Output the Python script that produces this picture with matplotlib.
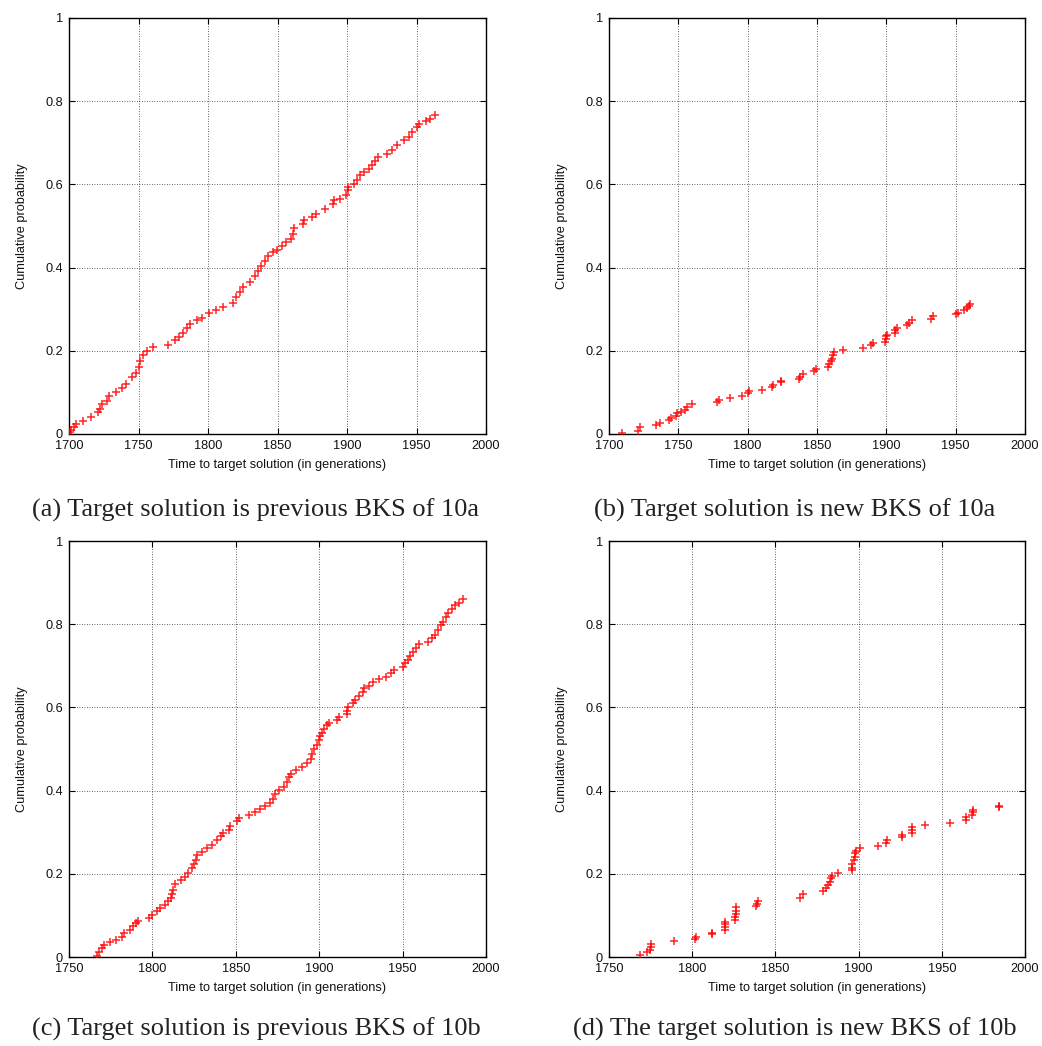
import matplotlib
matplotlib.use("Agg")
import matplotlib.pyplot as plt

# ---------------- data ----------------
a_x = [1700.5, 1701.7, 1703.4, 1705.3, 1710, 1716, 1721, 1722, 1724, 1727, 1729, 1734, 1738, 1741,
       1745, 1748, 1750, 1751, 1753, 1756, 1760.6, 1771, 1776, 1779, 1782, 1785, 1787, 1792, 1796,
       1801, 1805.5, 1811, 1818, 1820, 1823, 1825, 1830, 1834, 1836, 1838, 1841, 1843.5, 1846.6,
       1849.5, 1853, 1856, 1860, 1861, 1862, 1868, 1869, 1875, 1878, 1884, 1890, 1890.4, 1895,
       1899.5, 1900.5, 1901, 1905, 1907, 1909, 1912, 1916, 1918, 1920, 1922, 1929, 1932.5, 1936,
       1941, 1944.7, 1947, 1950, 1952, 1956.5, 1960, 1963]
a_y = [0.004, 0.010, 0.016, 0.024, 0.032, 0.042, 0.052, 0.060, 0.072, 0.080, 0.092, 0.100, 0.110, 0.120,
       0.136, 0.146, 0.160, 0.176, 0.190, 0.200, 0.209, 0.213, 0.225, 0.233, 0.242, 0.255, 0.265, 0.273, 0.279,
       0.290, 0.297, 0.305, 0.315, 0.329, 0.341, 0.353, 0.365, 0.381, 0.393, 0.405, 0.417, 0.428, 0.437,
       0.443, 0.453, 0.461, 0.469, 0.481, 0.496, 0.506, 0.514, 0.522, 0.530, 0.542, 0.554, 0.562, 0.566,
       0.574, 0.586, 0.594, 0.600, 0.610, 0.622, 0.630, 0.636, 0.646, 0.656, 0.666, 0.674, 0.682, 0.694,
       0.706, 0.714, 0.726, 0.738, 0.746, 0.753, 0.758, 0.766]

b_x = [1709.6, 1721, 1722, 1734, 1737, 1743.6, 1745, 1748, 1749, 1752, 1755, 1756, 1760, 1778, 1779,
       1787, 1796, 1800.6, 1801, 1810, 1817.5, 1818, 1824, 1824, 1837, 1838, 1840, 1847.6, 1849.5,
       1858, 1859, 1860, 1860.8, 1861.5, 1862, 1869, 1883, 1889, 1890.4, 1899, 1899.8, 1900, 1900.5,
       1906, 1906.5, 1908, 1915, 1916, 1918.6, 1932, 1934, 1950, 1952, 1956, 1958, 1959.7, 1960]
b_y = [0.002, 0.008, 0.016, 0.022, 0.026, 0.034, 0.039, 0.044, 0.050, 0.052, 0.058, 0.066, 0.072, 0.076, 0.082,
       0.087, 0.092, 0.098, 0.103, 0.106, 0.112, 0.118, 0.124, 0.128, 0.132, 0.138, 0.145, 0.151, 0.157,
       0.162, 0.169, 0.175, 0.181, 0.189, 0.197, 0.202, 0.206, 0.213, 0.218, 0.222, 0.229, 0.235, 0.239,
       0.243, 0.249, 0.255, 0.263, 0.267, 0.273, 0.277, 0.283, 0.288, 0.292, 0.297, 0.302, 0.307, 0.312]

c_x = [1766.8, 1768, 1769.5, 1771, 1774.5, 1778, 1782, 1783, 1786.5, 1788.5, 1790, 1791.5, 1798, 1800,
       1802.5, 1804.5, 1807.5, 1809.6, 1811, 1812, 1812.6, 1813.6, 1817, 1819.6, 1821.6, 1823.6, 1825,
       1826, 1826.6, 1829.6, 1832.6, 1835.6, 1838.6, 1841, 1842.6, 1845.7, 1846.7, 1850.7, 1852, 1857.7,
       1861.7, 1864.7, 1867.7, 1870.7, 1872.4, 1873.7, 1875.7, 1878.7, 1880.4, 1881.8, 1883, 1885.8,
       1889.8, 1892.8, 1894.8, 1895.8, 1897, 1898.8, 1899.8, 1900.4, 1901.8, 1902.8, 1904.4, 1905.8,
       1910.9, 1911.8, 1916.5, 1916.5, 1917, 1920, 1921.3, 1924, 1926, 1927, 1930, 1932, 1936, 1940,
       1943, 1945, 1950, 1951.4, 1953, 1954.5, 1956, 1958, 1960, 1965, 1967.5, 1969.5, 1971.4, 1973,
       1974, 1976, 1977, 1979.5, 1981.5, 1984, 1986]
c_y = [0.002, 0.012, 0.022, 0.028, 0.036, 0.042, 0.048, 0.058, 0.066, 0.074, 0.082, 0.087, 0.094, 0.102,
       0.110, 0.118, 0.126, 0.134, 0.143, 0.152, 0.162, 0.175, 0.185, 0.193, 0.202, 0.213, 0.223,
       0.234, 0.245, 0.253, 0.261, 0.270, 0.281, 0.290, 0.297, 0.305, 0.315, 0.327, 0.333, 0.341,
       0.349, 0.355, 0.363, 0.369, 0.381, 0.392, 0.401, 0.409, 0.421, 0.432, 0.441, 0.449,
       0.457, 0.467, 0.477, 0.488, 0.499, 0.510, 0.522, 0.531, 0.539, 0.547, 0.558, 0.563,
       0.570, 0.578, 0.584, 0.592, 0.602, 0.610, 0.618, 0.627, 0.636, 0.646, 0.652, 0.662, 0.668, 0.674,
       0.682, 0.690, 0.697, 0.706, 0.714, 0.724, 0.734, 0.742, 0.752, 0.758, 0.766, 0.774, 0.786, 0.798,
       0.806, 0.818, 0.828, 0.836, 0.847, 0.852, 0.860]

d_x = [1768.5, 1773, 1774.5, 1775, 1775, 1789, 1801.5, 1802, 1811.6, 1812, 1819.6, 1819.6, 1820, 1820,
       1825.6, 1826, 1826.6, 1826.6, 1826.6, 1838.6, 1839.2, 1839.6, 1864.7, 1866.7, 1878.7, 1880.4,
       1881.4, 1882.8, 1883.4, 1883.8, 1887.8, 1895.8, 1895.8, 1895.8, 1897.2, 1897.8, 1897.8, 1898.2,
       1900.8, 1911.8, 1916.5, 1916.9, 1925.9, 1925.9, 1932, 1932, 1932, 1940, 1955, 1964.6, 1964.6,
       1968, 1968.6, 1969, 1984.6, 1984.6]
d_y = [0.004, 0.012, 0.018, 0.024, 0.032, 0.039, 0.044, 0.048, 0.055, 0.058, 0.066, 0.072, 0.079, 0.084,
       0.088, 0.095, 0.103, 0.111, 0.119, 0.122, 0.128, 0.135, 0.143, 0.151, 0.159, 0.167,
       0.173, 0.181, 0.189, 0.194, 0.202, 0.209, 0.215, 0.223, 0.233, 0.241, 0.249, 0.255,
       0.261, 0.267, 0.275, 0.281, 0.288, 0.293, 0.299, 0.305, 0.312, 0.317, 0.323, 0.329, 0.336,
       0.341, 0.348, 0.353, 0.360, 0.364]

xlims = [(1700, 2000), (1700, 2000), (1750, 2000), (1750, 2000)]
captions = ["(a) Target solution is previous BKS of 10a",
            "(b) Target solution is new BKS of 10a",
            "(c) Target solution is previous BKS of 10b",
            "(d) The target solution is new BKS of 10b"]
xlabel = "Time to target solution (in generations)"
ylabel = "Cumulative probability"
yticks = [0, 0.2, 0.4, 0.6, 0.8, 1]
ytick_labels = ["0", "0.2", "0.4", "0.6", "0.8", "1"]

series = [(a_x, a_y), (b_x, b_y), (c_x, c_y), (d_x, d_y)]

# ---------------- layout ----------------
W, H = 1042, 1046
fig = plt.figure(figsize=(W / 100, H / 100), dpi=100)
plt.rcParams['font.family'] = ['Liberation Sans', 'DejaVu Sans']

boxes = [(69, 486, 18, 434), (609, 1025, 18, 434), (69, 486, 541, 957), (609, 1025, 541, 957)]
cap_pos = [(256, 510), (795, 510), (256, 1029), (795, 1029)]

for i, ((xs, ys), (l, r, t, b)) in enumerate(zip(series, boxes)):
    ax = fig.add_axes([l / W, 1 - b / H, (r - l) / W, (b - t) / H])
    ax.plot(xs, ys, linestyle='none', marker='+', color='#ff0000',
            markersize=5.2, markeredgewidth=1.1, alpha=0.85, zorder=3)
    ax.set_xlim(*xlims[i])
    ax.set_ylim(0, 1)
    step = 50
    ax.set_xticks(list(range(xlims[i][0], xlims[i][1] + 1, step)))
    ax.set_yticks(yticks)
    ax.set_yticklabels(ytick_labels)
    ax.grid(True, linestyle=(0, (1, 2)), color='#000000', linewidth=0.6, alpha=0.8)
    ax.tick_params(direction='in', top=True, right=True, length=4, width=0.8,
                   labelsize=9.2, pad=4.5, labelcolor='#111111')
    for sp in ax.spines.values():
        sp.set_linewidth(1.0)
    ax.set_xlabel(xlabel, fontsize=9.2, labelpad=5, color='#111111')
    ax.set_ylabel(ylabel, fontsize=9.2, labelpad=12, color='#111111')
    cx, cy = cap_pos[i]
    fig.text(cx / W, 1 - cy / H, captions[i], ha='center', va='center',
             fontsize=19, family=['Liberation Serif', 'DejaVu Serif'], color='#222222')

fig.savefig("out.png", dpi=100)
